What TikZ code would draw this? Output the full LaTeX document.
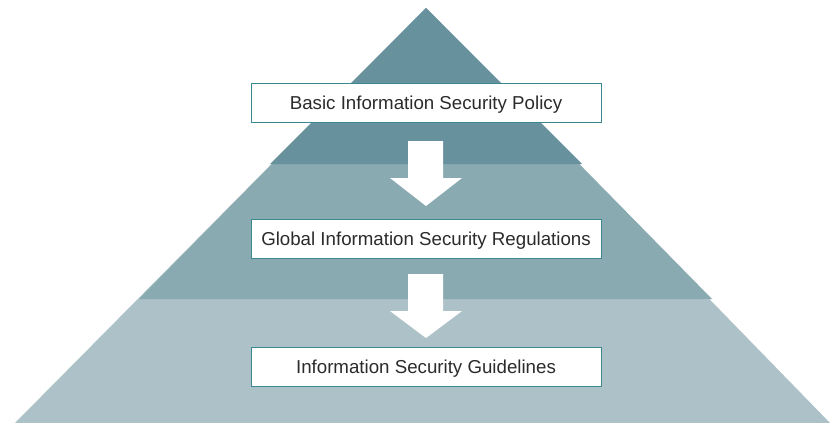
\documentclass[tikz,border=0pt]{standalone}
\usepackage{fontspec}
\setmainfont{Liberation Sans}
\begin{document}
\begin{tikzpicture}[x=1pt,y=-1pt,
  label/.style={draw=boxline, line width=1pt, fill=white, minimum width=350pt, minimum height=39pt,
    inner sep=0pt, text height=13.4pt, text depth=0pt, text=textgray, font=\fontsize{18.7}{21}\selectfont},
  bigarrow/.style={fill=white, draw=none}]
\definecolor{topband}{HTML}{67919D}
\definecolor{midband}{HTML}{8AAAB2}
\definecolor{lowband}{HTML}{ADC1C8}
\definecolor{boxline}{HTML}{3A8890}
\definecolor{textgray}{HTML}{2B2B2B}
\useasboundingbox (0,0) rectangle (830,423);
% pyramid bands
\coordinate (apex) at (426,8);
\fill[lowband] (15,423) -- (830,423) -- (apex) -- cycle;
\fill[midband] (139,299) -- (712,299) -- (apex) -- cycle;
\fill[topband] (270,164) -- (582,164) -- (apex) -- cycle;
% boxes
\node[label] (policy) at (426,102.5) {Basic Information Security Policy};
\node[label] (regs) at (426,238.5) {Global Information Security Regulations};
\node[label] (guide) at (426,366.5) {Information Security Guidelines};
% arrows
\fill[bigarrow] (408,141) -- (443,141) -- (443,178) -- (462,178) -- (426,206) -- (390,178) -- (408,178) -- cycle;
\fill[bigarrow] (408,274) -- (443,274) -- (443,311) -- (462,311) -- (426,338) -- (390,311) -- (408,311) -- cycle;
\end{tikzpicture}
\end{document}
